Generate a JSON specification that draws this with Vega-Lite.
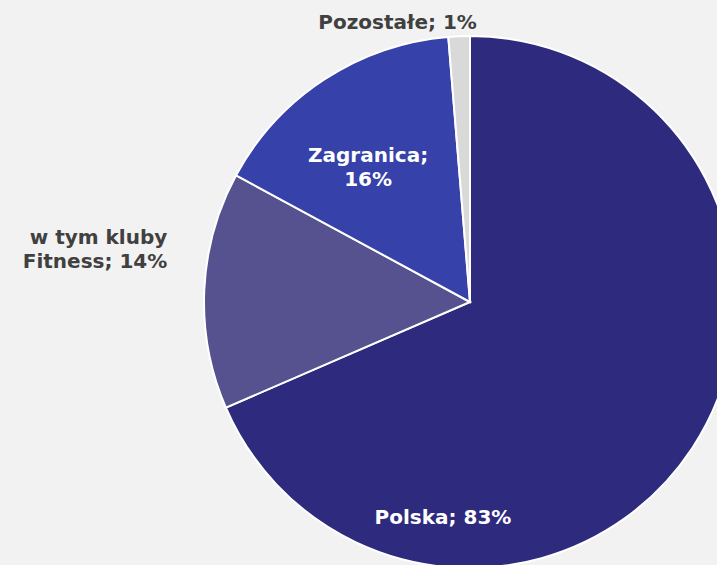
{
  "$schema": "https://vega.github.io/schema/vega-lite/v6.json",
  "width": 940,
  "height": 604,
  "padding": 0,
  "autosize": {"type": "none"},
  "background": "#F2F2F2",
  "config": {"view": {"stroke": null}},
  "data": {"values": [
    {"name": "Polska", "value": 68.5, "label": "Polska; 83%"},
    {"name": "Fitness", "value": 14.4, "label": "w tym kluby\nFitness; 14%"},
    {"name": "Zagranica", "value": 15.8, "label": "Zagranica;\n16%"},
    {"name": "Pozostałe", "value": 1.3, "label": "Pozostałe; 1%"}
  ]},
  "encoding": {
    "theta": {"field": "value", "type": "quantitative", "stack": true},
    "order": {"field": "order", "type": "quantitative"}
  },
  "transform": [
    {"calculate": "indexof(['Polska','Fitness','Zagranica','Pozostałe'], datum.name)", "as": "order"}
  ],
  "layer": [
    {
      "mark": {"type": "arc", "outerRadius": 266, "stroke": "#FFFFFF", "strokeWidth": 2},
      "encoding": {
        "color": {
          "field": "name", "type": "nominal", "legend": null,
          "scale": {"domain": ["Polska", "Fitness", "Zagranica", "Pozostałe"],
                    "range": ["#2E2A7D", "#55528F", "#3641A9", "#D9D9D9"]}
        }
      }
    },
    {
      "mark": {"type": "text", "radius": 0, "dx": -27, "dy": 216, "font": "DejaVu Sans", "fontWeight": "bold", "fontSize": 20, "fill": "#FFFFFF", "align": "center", "baseline": "middle"},
      "encoding": {"text": {"condition": {"test": "datum.name === 'Polska'", "field": "label"}, "value": ""}}
    },
    {
      "mark": {"type": "text", "radius": 170, "dx": -9, "dy": -4, "font": "DejaVu Sans", "fontWeight": "bold", "fontSize": 20, "fill": "#FFFFFF", "align": "center", "baseline": "middle", "lineBreak": "\n", "lineHeight": 24},
      "encoding": {"text": {"condition": {"test": "datum.name === 'Zagranica'", "field": "label"}, "value": ""}}
    },
    {
      "mark": {"type": "text", "radius": 303, "dx": 0, "dy": -51, "font": "DejaVu Sans", "fontWeight": "bold", "fontSize": 20, "fill": "#404040", "align": "right", "baseline": "middle", "lineBreak": "\n", "lineHeight": 24},
      "encoding": {"text": {"condition": {"test": "datum.name === 'Fitness'", "field": "label"}, "value": ""}}
    },
    {
      "mark": {"type": "text", "radius": 280, "dx": -61, "dy": 1, "font": "DejaVu Sans", "fontWeight": "bold", "fontSize": 20, "fill": "#404040", "align": "center", "baseline": "middle"},
      "encoding": {"text": {"condition": {"test": "datum.name === 'Pozostałe'", "field": "label"}, "value": ""}}
    }
  ]
}
